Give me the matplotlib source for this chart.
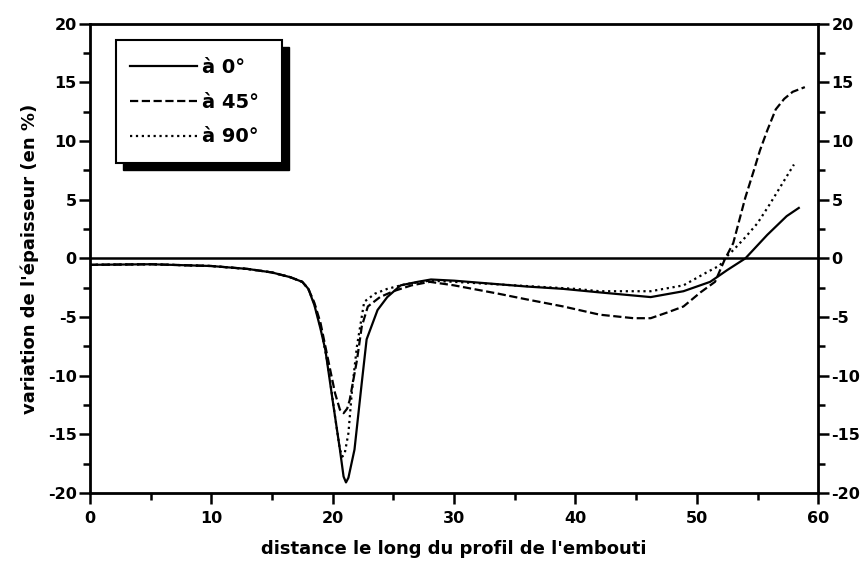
import matplotlib
matplotlib.use("Agg")
import matplotlib.pyplot as plt
from matplotlib.patches import Rectangle
from matplotlib.ticker import MultipleLocator

plt.rcParams['font.family'] = ['DejaVu Sans']
plt.rcParams['axes.unicode_minus'] = False

# courbe à 0°
x_0 = [0, 5, 10, 13, 15, 16.5, 17.5, 18.0, 18.5, 19.0, 19.4, 20.0, 20.6, 20.9, 21.1,
       21.3, 21.8, 22.4, 22.8, 23.7, 24.5, 25.6, 27, 28.1, 30, 33.6, 36, 39, 42,
       46.2, 48.9, 51.1, 52.5, 54.0, 54.9, 55.8, 56.6, 57.4, 58.4]
y_0 = [-0.55, -0.5, -0.65, -0.9, -1.2, -1.6, -2.0, -2.6, -4.0, -6.0, -7.8, -12.1, -16.3, -18.6, -19.1,
       -18.7, -16.3, -10.6, -6.9, -4.4, -3.3, -2.3, -2.0, -1.8, -1.9, -2.2, -2.4, -2.6, -2.9,
       -3.3, -2.8, -2.0, -1.0, 0.0, 1.0, 2.0, 2.8, 3.6, 4.3]

# courbe à 45°
x_45 = [0, 5, 10, 13, 15, 16.5, 17.5, 18.0, 18.5, 19.0, 19.6, 20.2, 20.6, 20.9, 21.2,
        21.4, 22.0, 22.4, 22.9, 23.9, 25, 26.5, 28, 30, 33.6, 36, 39, 42.0, 44.8, 46.2,
        47.6, 48.9, 50.3, 51.5, 52.3, 53.0, 54.0, 54.7, 55.2, 55.8, 56.5, 57.2, 57.9, 58.9]
y_45 = [-0.55, -0.5, -0.65, -0.9, -1.2, -1.6, -2.0, -2.6, -3.8, -5.5, -8.5, -11.5, -12.9, -13.2, -12.8,
        -12.1, -8.7, -5.8, -4.1, -3.3, -2.8, -2.3, -2.0, -2.3, -3.0, -3.5, -4.1, -4.8, -5.1, -5.1,
        -4.6, -4.1, -2.9, -2.0, -0.1, 1.3, 5.2, 7.5, 9.2, 10.9, 12.7, 13.6, 14.2, 14.6]

# courbe à 90°
x_90 = [0, 5, 10, 13, 15, 16.5, 17.5, 18.0, 18.5, 19.0, 19.6, 20.2, 20.6, 20.8, 21.0,
        21.3, 21.6, 22.0, 22.6, 23.5, 24.5, 26, 28, 30, 35, 40, 42.0, 46.2, 48.9,
        50.8, 51.9, 52.3, 53.0, 54.0, 55.0, 56.0, 57.0, 58.0]
y_90 = [-0.55, -0.5, -0.65, -0.9, -1.2, -1.6, -2.0, -2.6, -3.9, -5.8, -9.0, -13.5, -16.3, -16.9, -16.6,
        -14.9, -11.2, -7.5, -3.7, -3.0, -2.6, -2.2, -1.9, -2.0, -2.3, -2.6, -2.8, -2.8, -2.3,
        -1.2, -0.6, 0.0, 0.7, 1.8, 3.0, 4.6, 6.3, 8.0]

labels = ["à 0°", "à 45°", "à 90°"]

fig = plt.figure(figsize=(8.64, 5.66), dpi=100)
ax = fig.add_axes([0.104, 0.129, 0.843, 0.829])

ax.axhline(0, color='black', lw=1.8)
ax.plot(x_0, y_0, color='black', lw=1.6, ls='-', label=labels[0])
ax.plot(x_45, y_45, color='black', lw=1.6, ls='--', label=labels[1])
ax.plot(x_90, y_90, color='black', lw=1.6, ls=':', label=labels[2])

ax.set_xlim(0, 60)
ax.set_ylim(-20, 20)
ax.xaxis.set_major_locator(MultipleLocator(10))
ax.xaxis.set_minor_locator(MultipleLocator(5))
ax.yaxis.set_major_locator(MultipleLocator(5))
ax.yaxis.set_minor_locator(MultipleLocator(2.5))

for s in ax.spines.values():
    s.set_linewidth(2)
ax.tick_params(axis='x', which='both', direction='out', bottom=True, top=False, width=1.8)
ax.tick_params(axis='y', which='both', direction='out', left=True, right=True,
               labelleft=True, labelright=True, width=1.8)
ax.tick_params(which='major', length=8, labelsize=11.5)
ax.tick_params(which='minor', length=5)
ax.tick_params(axis='y', which='major', pad=1.5)
ax.tick_params(axis='x', which='major', pad=5)
for t in ax.get_xticklabels() + ax.get_yticklabels():
    t.set_fontweight('bold')

ax.set_xlabel("distance le long du profil de l'embouti", fontsize=13, fontweight='bold')
ax.set_ylabel("variation de l'épaisseur (en %)", fontsize=13, fontweight='bold')
ax.xaxis.set_label_coords(0.5, -0.1)
ax.yaxis.set_label_coords(-0.07, 0.5)

# cadre de la légende avec ombre
ax.add_patch(Rectangle((0.046, 0.689), 0.228, 0.262, transform=ax.transAxes,
                       facecolor='black', edgecolor='black', zorder=4))
ax.add_patch(Rectangle((0.036, 0.704), 0.228, 0.262, transform=ax.transAxes,
                       facecolor='white', edgecolor='black', lw=1.5, zorder=5))
leg = ax.legend(loc='upper left', bbox_to_anchor=(0.045, 0.943), frameon=False,
                fontsize=14, handlelength=3.4, handletextpad=0.3, labelspacing=0.8,
                borderaxespad=0)
leg.set_zorder(6)
for t in leg.get_texts():
    t.set_fontweight('bold')

fig.savefig("out.png", dpi=100)
